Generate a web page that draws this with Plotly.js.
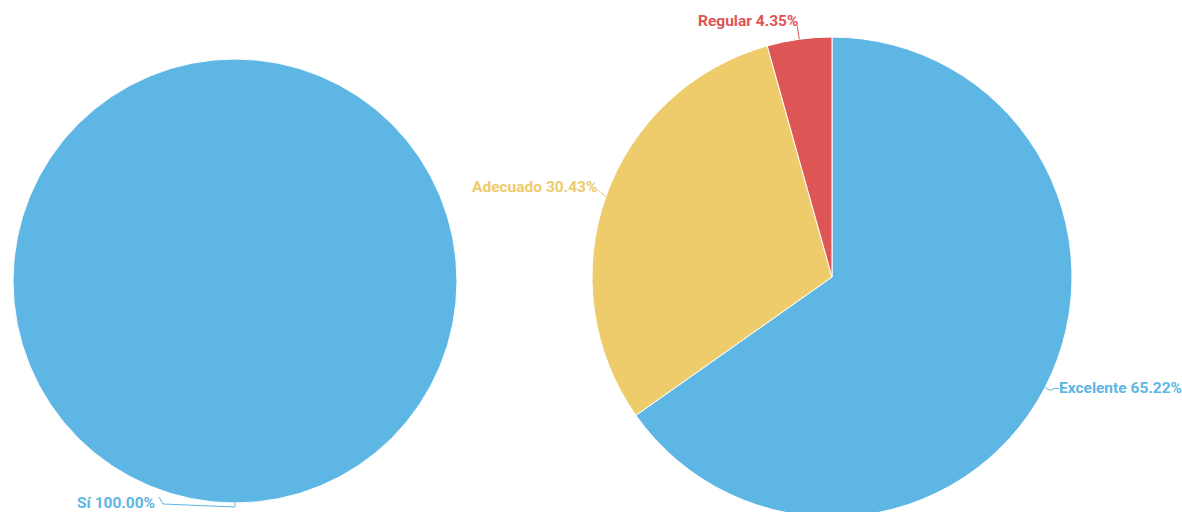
<!DOCTYPE html>
<html>
<head>
<meta charset="utf-8">
<script src="https://cdn.plot.ly/plotly-3.0.1.min.js"></script>
<style>
html,body{margin:0;padding:0;overflow:hidden;background:#fff;}
#chart{width:1182px;height:522px;}
</style>
</head>
<body>
<div id="chart"></div>
<script>
// ---- data ----
const leftLabels = ['Sí'];
const leftValues = [100];
const rightLabels = ['Excelente', 'Adecuado', 'Regular'];
const rightValues = [65.22, 30.43, 4.35];

// ---- styling ----
const BLUE = '#5eb6e4', YELLOW = '#eecb6b', RED = '#dd5555';
const leftColors = [BLUE];
const rightColors = [BLUE, YELLOW, RED];
const W = 1182, H = 522;
const FONT = 'Roboto, "Open Sans", sans-serif';

// pie geometry in pixels (top-left origin)
const pies = [
  {cx: 235, cy: 281, r: 222},
  {cx: 832, cy: 277, r: 240}
];
function domainOf(p) {
  return {x: [(p.cx - p.r) / W, (p.cx + p.r) / W],
          y: [(H - p.cy - p.r) / H, (H - p.cy + p.r) / H]};
}

const traces = [
  {type: 'pie', labels: leftLabels, values: leftValues, sort: false,
   direction: 'clockwise', rotation: 0,
   marker: {colors: leftColors, line: {color: '#ffffff', width: 1}},
   textinfo: 'none', hoverinfo: 'label+percent', domain: domainOf(pies[0]), showlegend: false},
  {type: 'pie', labels: rightLabels, values: rightValues, sort: false,
   direction: 'clockwise', rotation: 0,
   marker: {colors: rightColors, line: {color: '#ffffff', width: 1}},
   textinfo: 'none', hoverinfo: 'label+percent', domain: domainOf(pies[1]), showlegend: false}
];

// compute mid-angle edge points from the data
function edgePoints(values, p) {
  const tot = values.reduce((a, b) => a + b, 0);
  let cum = 0;
  return values.map(v => {
    const mid = (cum + v / 2) / tot * 2 * Math.PI;
    cum += v;
    return {x: p.cx + p.r * Math.sin(mid), y: p.cy - p.r * Math.cos(mid),
            pct: (v / tot * 100).toFixed(2)};
  });
}
const leftPts = edgePoints(leftValues, pies[0]);
const rightPts = edgePoints(rightValues, pies[1]);

const px = x => x / W, py = y => 1 - y / H;
const shapes = [], annotations = [];
function addLabel(text, color, pts, tx, ty, anchor) {
  shapes.push({type: 'path', xref: 'paper', yref: 'paper',
    path: pts.map((q, i) => (i ? 'L' : 'M') + px(q[0]) + ',' + py(q[1])).join(' '),
    line: {color: color, width: 1}});
  annotations.push({xref: 'paper', yref: 'paper', x: px(tx), y: py(ty),
    xanchor: anchor, yanchor: 'middle', showarrow: false, text: text,
    font: {family: FONT, size: 15.5, color: color, weight: 'bold'}});
}
// Sí
{
  const e = leftPts[0];
  addLabel(leftLabels[0] + ' ' + e.pct + '%', BLUE,
    [[e.x, e.y], [e.x, e.y + 4], [163, e.y + 1], [159, e.y - 6]], 157, 503, 'right');
}
// Excelente
{
  const e = rightPts[0];
  addLabel(rightLabels[0] + ' ' + e.pct + '%', BLUE,
    [[e.x, e.y], [e.x + 5, e.y + 3], [e.x + 9, e.y + 1], [e.x + 14, e.y + 1]], e.x + 12, e.y + 1, 'left');
}
// Adecuado
{
  const e = rightPts[1];
  addLabel(rightLabels[1] + ' ' + e.pct + '%', YELLOW,
    [[e.x, e.y], [e.x - 8, e.y - 7]], e.x - 7, e.y - 10, 'right');
}
// Regular
{
  const e = rightPts[2];
  addLabel(rightLabels[2] + ' ' + e.pct + '%', RED,
    [[e.x, e.y], [e.x - 2, e.y - 13]], e.x + 1, e.y - 18, 'right');
}

const layout = {
  width: W, height: H,
  margin: {l: 0, r: 0, t: 0, b: 0},
  paper_bgcolor: '#ffffff',
  showlegend: false,
  shapes: shapes,
  annotations: annotations,
  font: {family: FONT}
};
Plotly.newPlot('chart', traces, layout, {displayModeBar: false, staticPlot: true});
</script>
</body>
</html>
